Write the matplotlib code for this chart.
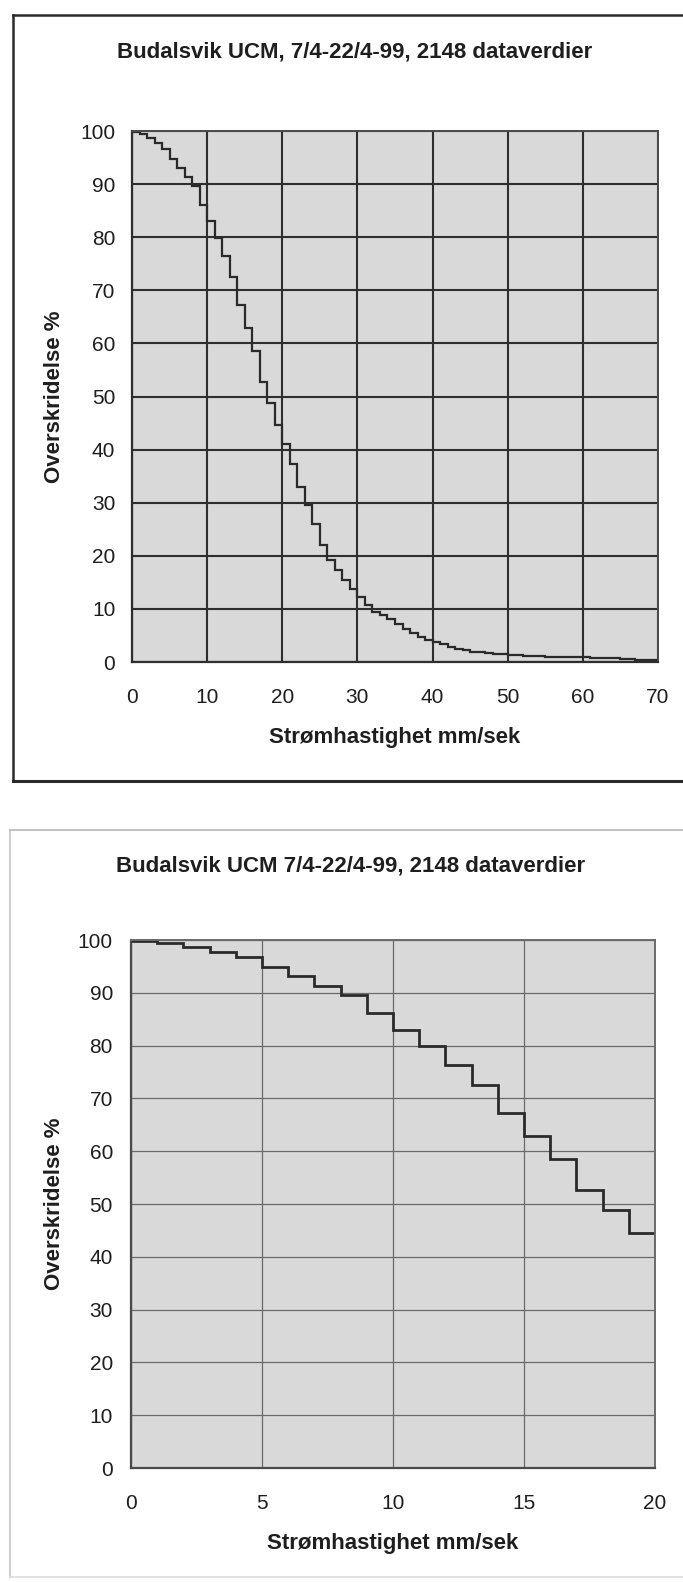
import matplotlib
matplotlib.use("Agg")
import matplotlib.pyplot as plt
from matplotlib.lines import Line2D

plt.rcParams['font.family'] = ['Liberation Sans', 'DejaVu Sans']

# ---- data -------------------------------------------------------------
title_top = "Budalsvik UCM, 7/4-22/4-99, 2148 dataverdier"
title_bottom = "Budalsvik UCM 7/4-22/4-99, 2148 dataverdier"
x_label = "Strømhastighet mm/sek"
y_label = "Overskridelse %"

# exceedance (%) for each 1 mm/s speed class, 0-1, 1-2, ... 69-70
speed_edges = list(range(0, 71))
exceed_pct = [99.8, 99.5, 98.6, 97.8, 96.7, 94.8, 93.1, 91.3, 89.6, 86.1,
              83.0, 79.9, 76.4, 72.5, 67.3, 62.9, 58.6, 52.7, 48.8, 44.6,
              41.0, 37.2, 32.9, 29.5, 25.9, 22.0, 19.2, 17.3, 15.5, 13.7,
              12.2, 10.7, 9.5, 8.8, 8.1, 7.2, 6.3, 5.5, 4.7, 4.1,
              3.7, 3.4, 2.9, 2.5, 2.2, 1.9, 1.8, 1.7, 1.6, 1.5,
              1.4, 1.3, 1.2, 1.1, 1.1, 1.0, 1.0, 0.9, 0.9, 0.85,
              0.85, 0.8, 0.8, 0.75, 0.7, 0.5, 0.5, 0.45, 0.45, 0.4]

top_xticks = [0, 10, 20, 30, 40, 50, 60, 70]
bottom_xticks = [0, 5, 10, 15, 20]
y_ticks = [0, 10, 20, 30, 40, 50, 60, 70, 80, 90, 100]

# ---- figure -----------------------------------------------------------
W, H = 683, 1582
fig = plt.figure(figsize=(W / 100, H / 100), dpi=100)
fig.patch.set_facecolor('white')


def fx(px):
    return px / W


def fy(py):
    return 1 - py / H


TXT = '#1e1e1e'
FACE = '#d9d9d9'

# outer frames
fig.add_artist(Line2D([fx(13), fx(13)], [fy(15), fy(781)], color='#2a2a2a', lw=1.8))
fig.add_artist(Line2D([fx(13), 1.01], [fy(15), fy(15)], color='#2a2a2a', lw=1.8))
fig.add_artist(Line2D([fx(13), 1.01], [fy(781), fy(781)], color='#2a2a2a', lw=2.2))
fig.add_artist(Line2D([fx(10), fx(10)], [fy(830), fy(1577)], color='#cfcfcf', lw=1.5))
fig.add_artist(Line2D([fx(10), 1.01], [fy(830), fy(830)], color='#c4c4c4', lw=1.5))
fig.add_artist(Line2D([fx(10), 1.01], [fy(1577), fy(1577)], color='#dddddd', lw=1.2))


def setup(ax, xlim, xticks, grid_color, grid_lw, spine_dark, spine_light, pad_x, pad_y):
    ax.set_facecolor(FACE)
    ax.set_xlim(*xlim)
    ax.set_ylim(0, 100)
    ax.set_xticks(xticks)
    ax.set_yticks(y_ticks)
    ax.tick_params(length=0, labelsize=15, labelcolor=TXT)
    ax.tick_params(axis='x', pad=pad_x)
    ax.tick_params(axis='y', pad=pad_y)
    ax.set_axisbelow(True)
    ax.grid(True, color=grid_color, lw=grid_lw)
    for s in ['left', 'bottom']:
        ax.spines[s].set_color(spine_dark)
        ax.spines[s].set_linewidth(1.6)
    for s in ['top', 'right']:
        ax.spines[s].set_color(spine_light)
        ax.spines[s].set_linewidth(1.4)
    ax.set_xlabel(x_label, fontsize=16, fontweight='bold', color=TXT)
    ax.set_ylabel(y_label, fontsize=16, fontweight='bold', color=TXT)


# top chart
ax1 = fig.add_axes([fx(132), fy(662), (658 - 132) / W, (662 - 131) / H])
setup(ax1, (0, 70), top_xticks, '#2e2e2e', 1.5, '#2e2e2e', '#4a4a4a', 19, 12)
ax1.stairs(exceed_pct, speed_edges, baseline=None, color='#2a2a2a', lw=1.6)
ax1.xaxis.set_label_coords(0.5, (662 - 737) / 531)
ax1.xaxis.label.set_va('center')
ax1.yaxis.set_label_coords((55 - 132) / 526, 0.5)
ax1.yaxis.label.set_va('center')
fig.text(fx(355), fy(52), title_top, ha='center', va='center',
         fontsize=16, fontweight='bold', color=TXT)

# bottom chart (zoom 0-20)
ax2 = fig.add_axes([fx(131), fy(1468), (655 - 131) / W, (1468 - 940) / H])
setup(ax2, (0, 20), bottom_xticks, '#6a6a6a', 0.9, '#4a4a4a', '#6a6a6a', 19, 13)
ax2.stairs(exceed_pct[:21], speed_edges[:22], baseline=None, color='#2a2a2a', lw=2.0)
ax2.xaxis.set_label_coords(0.5, (1468 - 1543) / 528)
ax2.xaxis.label.set_va('center')
ax2.yaxis.set_label_coords((55 - 131) / 524, 0.5)
ax2.yaxis.label.set_va('center')
fig.text(fx(351), fy(866), title_bottom, ha='center', va='center',
         fontsize=16, fontweight='bold', color=TXT)

fig.savefig('out.png', dpi=100, facecolor='white')
